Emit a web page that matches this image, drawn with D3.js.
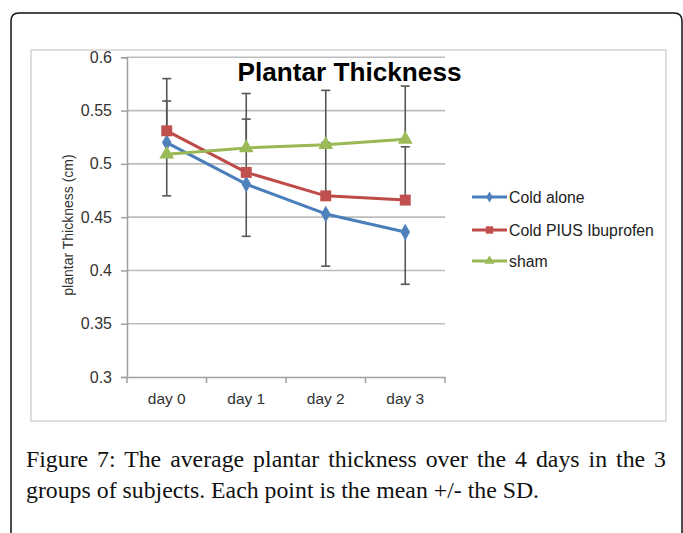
<!DOCTYPE html>
<html><head><meta charset="utf-8">
<script src="https://cdn.jsdelivr.net/npm/d3@7"></script>
<style>body{margin:0;background:#fff}svg{display:block}</style>
</head><body>
<svg id="c" width="683" height="533"></svg>
<script>
const categories = ["day 0","day 1","day 2","day 3"];
const yTicks = [0.3,0.35,0.4,0.45,0.5,0.55,0.6];
const yTickLabels = ["0.3","0.35","0.4","0.45","0.5","0.55","0.6"];
const seriesNames = ["Cold alone","Cold PIUS Ibuprofen","sham"];
const coldAlone = [0.520,0.481,0.453,0.436];
const coldIbuprofen = [0.531,0.492,0.470,0.466];
const sham = [0.509,0.515,0.518,0.523];
const coldAloneMinus = [0.050,0.049,0.049,0.049];
const coldIbuprofenPlus = [0.049,0.050,0.050,0.050];
const shamPlus = [0.050,0.051,0.051,0.050];
const titleText = "Plantar Thickness";
const yTitle = "plantar Thickness (cm)";
const captionLines = ["Figure 7: The average plantar thickness over the 4 days in the 3",
                      "groups of subjects. Each point is the mean +/- the SD."];

const svg = d3.select("#c");
// outer frame
svg.append("path").attr("d","M11,540 L11,21 Q11,13 19,13 L674,13 Q682,13 682,21 L682,540")
  .attr("fill","none").attr("stroke","#111").attr("stroke-width",1.5);
// chart box
svg.append("rect").attr("x",31).attr("y",50).attr("width",635).attr("height",371)
  .attr("fill","#fff").attr("stroke","#d4d4d4").attr("stroke-width",1.5);

const x = d3.scaleBand().domain(categories).range([127,445]);
const y = d3.scaleLinear().domain([0.3,0.6]).range([377,57.3]);
const font = "'Liberation Sans', Arial, sans-serif";

// gridlines
svg.append("g").selectAll("line").data(yTicks.slice(1)).join("line")
  .attr("x1",127).attr("x2",445).attr("y1",d=>y(d)).attr("y2",d=>y(d))
  .attr("stroke","#bdbdbd").attr("stroke-width",1.6);

// y axis
const ya = svg.append("g").attr("transform","translate(127,0)")
  .call(d3.axisLeft(y).tickValues(yTicks).tickSize(6).tickPadding(9)
    .tickFormat((d,i)=>yTickLabels[i]));
ya.select(".domain").attr("stroke","#a0a0a0").attr("stroke-width",1.5);
ya.selectAll(".tick line").attr("stroke","#a0a0a0").attr("stroke-width",1.5);
ya.selectAll(".tick text").attr("font-family",font).attr("font-size",16).attr("fill","#333");

// x axis
const xa = svg.append("g").attr("transform","translate(0,377)")
  .call(d3.axisBottom(x).tickSize(0).tickPadding(16));
xa.select(".domain").attr("stroke","#a0a0a0").attr("stroke-width",1.5);
xa.selectAll(".tick text").attr("font-family",font).attr("font-size",15.5).attr("fill","#333");
const bounds = categories.map(c=>x(c)).concat([x.range()[1]]);
xa.selectAll(".bt").data(bounds).join("line").attr("class","bt")
  .attr("x1",d=>d).attr("x2",d=>d).attr("y1",0).attr("y2",6)
  .attr("stroke","#a0a0a0").attr("stroke-width",1.5);

// y title
svg.append("text").attr("transform","translate(73,225) rotate(-90)")
  .attr("text-anchor","middle").attr("font-family",font).attr("font-size",14).attr("fill","#333")
  .text(yTitle);

// title
svg.append("text").attr("x",349.5).attr("y",81).attr("text-anchor","middle")
  .attr("font-family",font).attr("font-weight","bold").attr("font-size",26.2).attr("fill","#000")
  .text(titleText);

const cx = c => x(c) + x.bandwidth()/2;
// error bars
const errs = [
  {vals:coldAlone, plus:[0,0,0,0], minus:coldAloneMinus},
  {vals:coldIbuprofen, plus:coldIbuprofenPlus, minus:[0,0,0,0]},
  {vals:sham, plus:shamPlus, minus:[0,0,0,0]}
];
const eg = svg.append("g").attr("stroke","#555").attr("stroke-width",1.6);
errs.forEach(s=>{
  categories.forEach((c,i)=>{
    const v = s.vals[i];
    if (s.plus[i]>0){
      eg.append("line").attr("x1",cx(c)).attr("x2",cx(c)).attr("y1",y(v)).attr("y2",y(v+s.plus[i]));
      eg.append("line").attr("x1",cx(c)-4.5).attr("x2",cx(c)+4.5).attr("y1",y(v+s.plus[i])).attr("y2",y(v+s.plus[i]));
    }
    if (s.minus[i]>0){
      eg.append("line").attr("x1",cx(c)).attr("x2",cx(c)).attr("y1",y(v)).attr("y2",y(v-s.minus[i]));
      eg.append("line").attr("x1",cx(c)-4.5).attr("x2",cx(c)+4.5).attr("y1",y(v-s.minus[i])).attr("y2",y(v-s.minus[i]));
    }
  });
});

const series = [
  {name:seriesNames[0], vals:coldAlone, line:"#4a7ebb", fill:"#4f81bd", sym:d3.symbolDiamond, size:80},
  {name:seriesNames[1], vals:coldIbuprofen, line:"#be4b48", fill:"#c0504d", sym:d3.symbolSquare, size:120},
  {name:seriesNames[2], vals:sham, line:"#98b954", fill:"#9bbb59", sym:d3.symbolTriangle, size:95}
];
const lineGen = d3.line().x((d,i)=>cx(categories[i])).y(d=>y(d));
series.forEach(s=>{
  svg.append("path").attr("d",lineGen(s.vals)).attr("fill","none")
    .attr("stroke",s.line).attr("stroke-width",3).attr("stroke-linejoin","round");
  svg.append("g").selectAll("path").data(s.vals).join("path")
    .attr("transform",(d,i)=>`translate(${cx(categories[i])},${y(d)})`)
    .attr("d",d3.symbol().type(s.sym).size(s.size)).attr("fill",s.fill);
});

// legend
const legY = [197,230,261];
series.forEach((s,i)=>{
  const g = svg.append("g").attr("transform",`translate(472,${legY[i]})`);
  g.append("line").attr("x1",0).attr("x2",35).attr("stroke",s.line).attr("stroke-width",3);
  g.append("path").attr("transform","translate(17.5,0)").attr("d",d3.symbol().type(s.sym).size(s.size*0.45)).attr("fill",s.fill);
  g.append("text").attr("x",37).attr("y",5.5).attr("font-family",font).attr("font-size",15.8).attr("fill","#222").text(s.name);
});

// caption
const serif = "'Liberation Serif', 'Times New Roman', serif";
const cap1 = svg.append("text").attr("x",26).attr("y",467).attr("font-family",serif).attr("font-size",23.8).attr("fill","#111")
  .text(captionLines[0]);
const cap2 = svg.append("text").attr("x",26).attr("y",498).attr("font-family",serif).attr("font-size",23.8).attr("fill","#111")
  .text(captionLines[1]);
// justify first line to the right margin
const w1 = cap1.node().getComputedTextLength();
const nSpaces = captionLines[0].split(" ").length-1;
cap1.attr("word-spacing",Math.max(0,(666-26-w1)/nSpaces));
</script>
</body></html>
